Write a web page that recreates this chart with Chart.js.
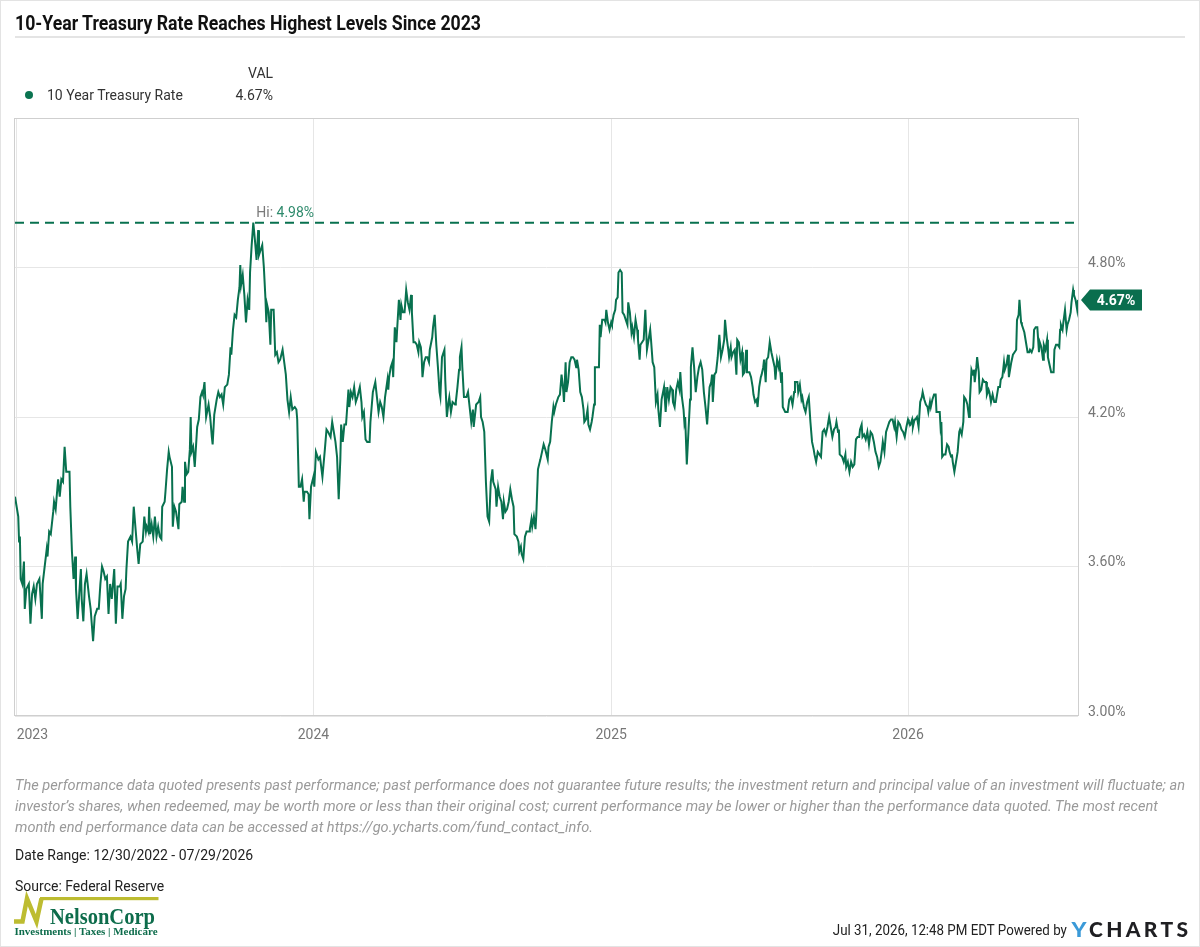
<!DOCTYPE html>
<html>
<head>
<meta charset="utf-8">
<script src="https://cdn.jsdelivr.net/npm/chart.js@4.4.1/dist/chart.umd.min.js"></script>
<style>
html,body{margin:0;padding:0;background:#fff;}
body{width:1200px;height:947px;position:relative;overflow:hidden;font-family:Roboto,"Open Sans",sans-serif;}
#frame{position:absolute;left:0;top:0;width:1198px;height:945px;border:1px solid #e3e3e3;pointer-events:none;}
#chart{position:absolute;left:0;top:0;}
.abs{position:absolute;white-space:nowrap;}
#title{left:15px;top:11px;font-weight:700;font-size:20px;line-height:24px;color:#111;transform-origin:0 0;}
#rule{left:15px;top:36px;width:1170px;height:2px;background:#e4e4e4;}
.lg{font-size:14px;line-height:16px;color:#333;}
.foot{left:15px;font-size:14px;line-height:21px;color:#9a9a9a;font-style:italic;transform-origin:0 0;}
.meta{font-size:14px;line-height:16px;color:#222;}
#stamp{transform-origin:100% 0;}
</style>
</head>
<body>
<canvas id="chart" width="1200" height="947"></canvas>
<div id="frame"></div>
<div id="title" class="abs">10-Year Treasury Rate Reaches Highest Levels Since 2023</div>
<div id="rule" class="abs"></div>
<div class="abs lg" style="left:248px;top:65px;">VAL</div>
<div class="abs" style="left:25px;top:91px;width:8px;height:8px;border-radius:50%;background:#0b7451;"></div>
<div class="abs lg" style="left:47px;top:87px;">10 Year Treasury Rate</div>
<div id="legval" class="abs lg" style="left:235px;top:87px;width:38px;text-align:right;"></div>
<div class="abs foot" data-w="1170" style="top:775px;">The performance data quoted presents past performance; past performance does not guarantee future results; the investment return and principal value of an investment will fluctuate; an</div>
<div class="abs foot" data-w="1143" style="top:796px;">investor’s shares, when redeemed, may be worth more or less than their original cost; current performance may be lower or higher than the performance data quoted. The most recent</div>
<div class="abs foot" data-w="578" style="top:817px;">month end performance data can be accessed at https://go.ycharts.com/fund_contact_info.</div>
<div class="abs meta" style="left:15px;top:847px;">Date Range: 12/30/2022 - 07/29/2026</div>
<div class="abs meta" style="left:15px;top:878px;">Source: Federal Reserve</div>
<div id="stamp" class="abs meta" style="right:133px;top:922px;">Jul 31, 2026, 12:48 PM EDT Powered by</div>
<svg class="abs" style="left:0;top:0;" width="1200" height="947">
  <polyline points="14,921.5 22.5,921.5 27,898.5 36.5,921.5 41.5,898.5" fill="none" stroke="#bdbc31" stroke-width="4.5" stroke-linejoin="miter"/>
  <rect x="40" y="897" width="118.5" height="3.2" fill="#bdbc31"/>
  <text x="50" y="923.5" font-family="'Liberation Serif','DejaVu Serif',serif" font-weight="700" font-size="24" fill="#0d6c4b" textLength="105" lengthAdjust="spacingAndGlyphs">NelsonCorp</text>
  <text x="14.5" y="935" font-family="'Liberation Serif','DejaVu Serif',serif" font-weight="700" font-size="11" fill="#0d6c4b" textLength="143" lengthAdjust="spacingAndGlyphs">Investments | Taxes | Medicare</text>
  <text x="1071.5" y="937" font-family="Lato,'DejaVu Sans',sans-serif" font-weight="900" font-size="21" fill="#3b9ad8" textLength="15" lengthAdjust="spacingAndGlyphs">Y</text>
  <text x="1089" y="937" font-family="Lato,'DejaVu Sans',sans-serif" font-weight="900" font-size="21" fill="#1f1f22" textLength="99" lengthAdjust="spacing">CHARTS</text>
</svg>
<script>
// ---- DATA (x = days since 2023-01-01, y = 10-Year Treasury rate, %) ----
const startDate = '2023-01-01';
const days2023 = [
-2,2,3,4,5,7,9,10,12,15,
17,19,21,23,25,28,31,32,37,38,
40,42,45,46,48,50,51,53,55,57,
59,61,63,65,66,68,70,72,73,75,
77,79,80,82,84,86,89,91,94,96,
99,101,103,105,107,109,111,113,115,117,
120,122,124,127,128,130,132,134,135,137,
140,142,144,146,148,150,152,155,157,159,
160,162,163,164,166,168,170,172,174,176,
178,179,182,183,185,187,188,191,192,194,
196,199,200,203,204,206,207,209,211,213,
214,215,217,219,222,224,226,228,229,231,
233,236,238,240,241,243,246,248,250,252,
254,256,259,261,263,264,266,268,270,272,
274,275,276,278,280,282,284,286,287,289,
291,293,295,297,298,300,302,304,306,307,
308,310,312,313,316,318,320,322,324,327,
329,331,333,335,337,339,342,344,345,347,
349,351,353,354,357,359,360,362];
const rates2023 = [
3.88,3.80,3.70,3.72,3.55,3.53,3.62,3.43,3.51,3.53,
3.37,3.49,3.52,3.47,3.53,3.55,3.39,3.53,3.67,3.64,
3.74,3.73,3.82,3.86,3.83,3.91,3.95,3.88,3.95,3.94,
4.08,3.98,3.98,3.98,3.84,3.66,3.55,3.64,3.51,3.39,
3.49,3.59,3.47,3.38,3.53,3.57,3.48,3.43,3.30,3.40,
3.43,3.43,3.53,3.60,3.58,3.55,3.56,3.41,3.53,3.47,
3.59,3.37,3.52,3.52,3.53,3.39,3.48,3.51,3.59,3.70,
3.72,3.70,3.84,3.76,3.68,3.61,3.69,3.70,3.80,3.74,
3.76,3.74,3.84,3.73,3.77,3.72,3.80,3.72,3.76,3.72,
3.71,3.84,3.86,3.90,3.99,4.06,4.04,4.00,3.76,3.84,
3.82,3.75,3.85,3.86,3.92,3.86,4.02,3.97,3.98,4.07,
4.20,4.06,4.08,4.00,4.16,4.19,4.28,4.30,4.29,4.34,
4.20,4.25,4.20,4.12,4.09,4.21,4.27,4.30,4.28,4.29,
4.25,4.32,4.33,4.37,4.48,4.45,4.55,4.61,4.60,4.67,
4.72,4.81,4.73,4.77,4.69,4.58,4.67,4.63,4.78,4.89,
4.98,4.91,4.83,4.95,4.85,4.87,4.89,4.80,4.67,4.58,
4.65,4.62,4.49,4.63,4.63,4.45,4.46,4.42,4.43,4.47,
4.42,4.37,4.27,4.22,4.28,4.23,4.24,4.23,4.19,3.92,
3.92,3.95,3.86,3.90,3.90,3.89,3.79,3.92];
const days2024 = [
365,366,368,371,373,376,379,381,383,386,
388,390,392,394,396,398,399,401,403,405,
408,409,411,413,415,417,419,422,424,425,
427,429,431,434,435,438,441,443,445,447,
449,451,453,456,457,458,460,462,463,465,
467,468,470,472,473,475,477,479,481,483,
485,486,488,490,492,494,495,497,498,499,
501,503,505,507,508,511,512,514,516,518,
520,521,523,526,527,529,531,532,534,536,
539,540,542,544,545,547,548,550,553,555,
557,559,561,562,565,568,570,571,573,575,
577,579,581,583,585,586,589,590,592,594,
596,598,599,601,603,605,607,609,611,612,
615,617,618,620,621,623,625,627,630,631,
633,634,636,638,639,641,644,646,648,650,
653,654,656,658,660,661,663,666,668,670,
672,673,675,676,678,680,682,684,686,688,
689,691,693,695,697,698,700,702,703,705,
707,708,710,711,714,716,717,718,720,723,
724,725,727,729];
const rates2024 = [
3.96,3.92,4.06,4.03,4.04,3.96,4.07,4.15,4.14,4.12,
4.18,4.14,4.10,4.04,3.87,4.03,4.17,4.10,4.17,4.17,
4.31,4.24,4.30,4.28,4.32,4.26,4.28,4.32,4.26,4.20,
4.22,4.11,4.10,4.10,4.18,4.30,4.34,4.28,4.22,4.26,
4.24,4.20,4.28,4.35,4.31,4.36,4.40,4.42,4.36,4.56,
4.50,4.56,4.67,4.59,4.65,4.62,4.62,4.71,4.66,4.63,
4.69,4.62,4.50,4.50,4.49,4.46,4.50,4.48,4.44,4.36,
4.42,4.44,4.44,4.42,4.47,4.52,4.56,4.61,4.49,4.40,
4.30,4.28,4.44,4.47,4.35,4.20,4.26,4.28,4.22,4.26,
4.25,4.26,4.32,4.39,4.44,4.48,4.40,4.28,4.28,4.30,
4.24,4.18,4.23,4.16,4.25,4.26,4.28,4.20,4.18,4.14,
3.94,3.80,3.78,3.94,3.99,3.94,3.91,3.84,3.92,3.88,
3.86,3.79,3.86,3.82,3.83,3.86,3.91,3.87,3.84,3.73,
3.72,3.70,3.66,3.68,3.65,3.63,3.72,3.74,3.74,3.75,
3.79,3.76,3.80,3.75,3.81,3.99,4.03,4.06,4.09,4.07,
4.03,4.08,4.10,4.18,4.24,4.22,4.25,4.28,4.29,4.37,
4.31,4.26,4.42,4.30,4.34,4.42,4.44,4.44,4.43,4.40,
4.43,4.39,4.30,4.28,4.23,4.18,4.19,4.23,4.17,4.15,
4.18,4.20,4.25,4.40,4.40,4.40,4.57,4.52,4.59,4.59,
4.58,4.63,4.58,4.55];
const days2025 = [
731,732,734,736,737,739,740,742,744,745,
747,749,751,752,754,756,757,759,761,763,
764,766,767,769,771,773,775,777,779,780,
782,784,786,788,789,791,793,796,797,798,
800,802,804,806,807,809,811,813,815,816,
818,820,821,822,824,826,828,829,831,833,
835,837,839,841,843,845,847,849,852,854,
855,856,858,860,862,864,866,868,870,871,
873,875,876,878,879,881,883,885,886,888,
890,892,893,895,897,898,901,903,905,906,
908,910,911,913,915,916,918,919,921,922,
924,926,928,930,932,933,935,937,938,940,
941,942,945,948,950,952,954,956,957,960,
961,963,965,966,968,970,972,974,976,978,
980,981,983,985,987,989,991,993,995,997,
999,1001,1003,1005,1007,1008,1010,1011,1012,1015,
1017,1019,1020,1022,1024,1026,1028,1030,1032,1034,
1036,1037,1039,1040,1042,1044,1046,1048,1050,1052,
1054,1056,1058,1060,1062,1064,1065,1067,1069,1071,
1073,1075,1077,1079,1080,1082,1084,1086,1088,1090,
1092,1094];
const rates2025 = [
4.58,4.57,4.61,4.63,4.67,4.68,4.78,4.79,4.78,4.62,
4.61,4.59,4.57,4.66,4.62,4.54,4.56,4.52,4.59,4.55,
4.51,4.43,4.49,4.50,4.51,4.63,4.47,4.51,4.55,4.51,
4.42,4.40,4.26,4.29,4.23,4.16,4.27,4.32,4.27,4.22,
4.32,4.27,4.32,4.31,4.26,4.24,4.31,4.34,4.31,4.38,
4.28,4.23,4.18,4.20,4.01,4.14,4.27,4.40,4.48,4.40,
4.30,4.36,4.40,4.42,4.39,4.30,4.24,4.17,4.32,4.34,
4.37,4.26,4.37,4.38,4.44,4.53,4.44,4.47,4.51,4.59,
4.52,4.47,4.44,4.48,4.44,4.46,4.47,4.37,4.51,4.50,
4.43,4.46,4.37,4.38,4.47,4.38,4.38,4.36,4.32,4.29,
4.26,4.27,4.24,4.32,4.36,4.37,4.40,4.43,4.34,4.43,
4.44,4.50,4.46,4.43,4.40,4.35,4.43,4.40,4.42,4.34,
4.38,4.24,4.22,4.22,4.27,4.28,4.25,4.30,4.34,4.34,
4.30,4.33,4.27,4.28,4.24,4.22,4.26,4.28,4.18,4.10,
4.07,4.05,4.02,4.06,4.05,4.04,4.14,4.15,4.13,4.16,
4.20,4.16,4.12,4.15,4.16,4.18,4.14,4.15,4.05,4.04,
4.02,4.05,4.00,4.02,3.98,4.02,4.00,4.01,4.11,4.12,
4.12,4.15,4.17,4.12,4.13,4.11,4.14,4.09,4.14,4.13,
4.10,4.06,4.04,4.00,4.02,4.07,4.10,4.06,4.14,4.16,
4.18,4.19,4.19,4.16,4.18,4.12,4.18,4.17,4.15,4.14,
4.12,4.16];
const days2026 = [
1096,1097,1099,1101,1102,1104,1105,1107,1109,1111,
1113,1114,1116,1118,1120,1121,1123,1124,1126,1128,
1130,1131,1133,1135,1136,1137,1138,1140,1142,1144,
1146,1147,1149,1150,1151,1153,1155,1157,1159,1160,
1162,1164,1165,1167,1169,1171,1172,1174,1176,1177,
1178,1180,1181,1183,1184,1186,1188,1190,1192,1193,
1195,1196,1198,1200,1202,1204,1206,1207,1209,1210,
1212,1214,1215,1217,1219,1220,1222,1223,1225,1227,
1229,1230,1232,1233,1235,1236,1239,1241,1243,1245,
1246,1248,1250,1251,1253,1255,1257,1258,1260,1262,
1263,1265,1267,1268,1270,1272,1275,1276,1278,1280,
1282,1283,1284,1286,1287,1289,1291,1292,1294,1296,
1297,1299,1300,1302,1304,1305];
const rates2026 = [
4.19,4.18,4.17,4.19,4.16,4.19,4.19,4.20,4.16,4.26,
4.28,4.30,4.27,4.25,4.24,4.22,4.26,4.24,4.27,4.29,
4.29,4.22,4.22,4.22,4.16,4.18,4.04,4.05,4.05,4.09,
4.08,4.06,4.04,4.05,4.02,3.98,4.02,4.06,4.14,4.15,
4.13,4.18,4.28,4.27,4.25,4.20,4.26,4.39,4.37,4.39,
4.34,4.40,4.44,4.38,4.30,4.31,4.35,4.34,4.34,4.29,
4.31,4.30,4.26,4.29,4.26,4.26,4.30,4.32,4.32,4.35,
4.36,4.42,4.39,4.41,4.45,4.36,4.40,4.42,4.45,4.46,
4.47,4.59,4.61,4.67,4.58,4.57,4.54,4.50,4.46,4.46,
4.47,4.46,4.48,4.55,4.56,4.56,4.46,4.50,4.48,4.43,
4.49,4.47,4.51,4.44,4.41,4.38,4.38,4.47,4.49,4.49,
4.48,4.55,4.57,4.55,4.58,4.63,4.55,4.57,4.59,4.62,
4.66,4.71,4.69,4.67,4.63,4.67];

const yearTickDays = [0, 365, 731, 1096];
const yearLabels = ['2023', '2024', '2025', '2026'];
const yTickValues = [3.0, 3.6, 4.2, 4.8];
const seriesName = '10 Year Treasury Rate';

// ---- build ----
const allDays = days2023.concat(days2024, days2025, days2026);
const allRates = rates2023.concat(rates2024, rates2025, rates2026);
const points = allDays.map((d, i) => ({x: d, y: allRates[i]}));
const firstDay = allDays[0], lastDay = allDays[allDays.length - 1];
const lastVal = allRates[allRates.length - 1];
let hiIdx = 0;
allRates.forEach((v, i) => { if (v > allRates[hiIdx]) hiIdx = i; });
const hiVal = allRates[hiIdx], hiDay = allDays[hiIdx];
const GREEN = '#08714f';

document.getElementById('legval').textContent = lastVal.toFixed(2) + '%';

// fit text blocks to the reference widths
(function(){
  const t = document.getElementById('title');
  t.style.transform = 'scaleX(' + (466 / t.getBoundingClientRect().width) + ')';
  document.querySelectorAll('.foot').forEach(el => {
    const target = Number(el.dataset.w);
    el.style.transform = 'scaleX(' + (target / el.getBoundingClientRect().width) + ')';
  });
  const s = document.getElementById('stamp');
  s.style.transform = 'scaleX(' + (234 / s.getBoundingClientRect().width) + ')';
})();

const framePlugin = {
  id: 'frame',
  beforeDatasetsDraw(chart) {
    const a = chart.chartArea, ctx = chart.ctx;
    ctx.save();
    ctx.strokeStyle = '#cfcfcf';
    ctx.lineWidth = 1;
    ctx.strokeRect(Math.round(a.left) - 0.5, Math.round(a.top) + 0.5, Math.round(a.right - a.left) + 1, Math.round(a.bottom - a.top) - 1);
    ctx.restore();
  }
};

const annoPlugin = {
  id: 'anno',
  afterDatasetsDraw(chart) {
    const ctx = chart.ctx, xs = chart.scales.x, ys = chart.scales.y, a = chart.chartArea;
    // Hi label
    const px = xs.getPixelForValue(hiDay), py = ys.getPixelForValue(hiVal);
    ctx.save();
    ctx.font = '14px Roboto';
    ctx.textAlign = 'left';
    ctx.textBaseline = 'alphabetic';
    const pre = 'Hi: ';
    ctx.fillStyle = '#7a7a7a';
    ctx.fillText(pre, px + 3, py - 6);
    const w = ctx.measureText(pre).width;
    ctx.fillStyle = '#2e8a6c';
    ctx.fillText(hiVal.toFixed(2) + '%', px + 3 + w, py - 6);
    // last value badge
    const ly = Math.round(ys.getPixelForValue(lastVal));
    const x0 = a.right + 3;
    ctx.fillStyle = '#0a6e4e';
    ctx.beginPath();
    ctx.moveTo(x0, ly);
    ctx.lineTo(x0 + 9, ly - 10.5);
    ctx.lineTo(x0 + 61, ly - 10.5);
    ctx.lineTo(x0 + 61, ly + 10.5);
    ctx.lineTo(x0 + 9, ly + 10.5);
    ctx.closePath();
    ctx.fill();
    ctx.fillStyle = '#ffffff';
    ctx.font = 'bold 14px Roboto';
    ctx.textAlign = 'center';
    ctx.textBaseline = 'middle';
    ctx.fillText(lastVal.toFixed(2) + '%', x0 + 35, ly + 1);
    ctx.restore();
  }
};

new Chart(document.getElementById('chart'), {
  type: 'line',
  data: {
    datasets: [
      {
        label: seriesName,
        data: points,
        borderColor: GREEN,
        borderWidth: 2,
        pointRadius: 0,
        tension: 0,
        fill: false
      },
      {
        label: 'Hi',
        data: [{x: firstDay, y: hiVal}, {x: lastDay, y: hiVal}],
        borderColor: GREEN,
        borderWidth: 2,
        borderDash: [9, 6],
        pointRadius: 0,
        fill: false
      }
    ]
  },
  options: {
    responsive: false,
    animation: false,
    events: [],
    layout: {padding: {left: 15, top: 118, right: 15, bottom: 201}},
    plugins: {legend: {display: false}, tooltip: {enabled: false}},
    scales: {
      x: {
        type: 'linear',
        min: firstDay,
        max: lastDay,
        afterBuildTicks: s => { s.ticks = yearTickDays.concat([lastDay]).map(v => ({value: v})); },
        afterFit: s => { s.height = 30; },
        ticks: {
          align: 'inner',
          autoSkip: false,
          maxRotation: 0,
          padding: 11,
          color: '#777',
          font: {family: 'Roboto', size: 14},
          callback: v => { const i = yearTickDays.indexOf(v); return i >= 0 ? yearLabels[i] : ''; }
        },
        grid: {color: '#e6e6e6', drawTicks: false, tickLength: 0},
        border: {display: false}
      },
      y: {
        position: 'right',
        min: 3.0,
        max: 5.4,
        afterBuildTicks: s => { s.ticks = yTickValues.map(v => ({value: v})); },
        afterFit: s => { s.width = 107; },
        ticks: {
          padding: 10,
          labelOffset: -4,
          color: '#777',
          font: {family: 'Roboto', size: 14},
          callback: v => Number(v).toFixed(2) + '%'
        },
        grid: {color: '#e6e6e6', drawTicks: false, tickLength: 0},
        border: {display: false}
      }
    }
  },
  plugins: [framePlugin, annoPlugin]
});
</script>
</body>
</html>
